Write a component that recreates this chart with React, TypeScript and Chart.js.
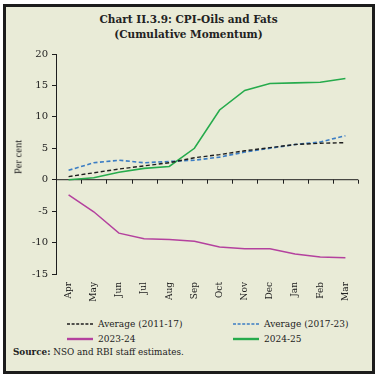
import React, { useEffect, useRef } from "react";
import { Chart, registerables } from "chart.js";

Chart.register(...registerables);

const months = ["Apr", "May", "Jun", "Jul", "Aug", "Sep", "Oct", "Nov", "Dec", "Jan", "Feb", "Mar"];
const avg1117 = [0.5, 1.1, 1.7, 2.2, 2.7, 3.5, 4.0, 4.6, 5.1, 5.6, 5.8, 5.9];
const avg1723 = [1.5, 2.7, 3.1, 2.7, 2.9, 3.1, 3.6, 4.4, 5.0, 5.6, 6.0, 7.0];
const y2324 = [-2.4, -5.1, -8.5, -9.4, -9.5, -9.8, -10.7, -11.0, -11.0, -11.8, -12.3, -12.4];
const y2425 = [0.0, 0.3, 1.2, 1.8, 2.1, 5.0, 11.1, 14.2, 15.3, 15.4, 15.5, 16.1];
const yTicks = [-15, -10, -5, 0, 5, 10, 15, 20];

const BLACK = "#1e1e1e";
const BLUE = "#3b7dc4";
const PURPLE = "#b4419e";
const GREEN = "#26ab4c";
const BG = "#e9ebd7";
const SERIF = "'DejaVu Serif', serif";

const zeroAxis = {
  id: "zeroAxis",
  beforeDatasetsDraw(chart: any) {
    const { ctx, chartArea, scales } = chart;
    const x = scales.x;
    const y = scales.y;
    const y0 = y.getPixelForValue(0);
    const half = (x.getPixelForValue(1) - x.getPixelForValue(0)) / 2;
    ctx.save();
    ctx.strokeStyle = BLACK;
    ctx.lineWidth = 1;
    ctx.beginPath();
    ctx.moveTo(chartArea.left, y0);
    ctx.lineTo(chartArea.right, y0);
    for (let i = 0; i < months.length; i++) {
      const bx = Math.round(x.getPixelForValue(i) + half) + 0.5;
      ctx.moveTo(bx, y0);
      ctx.lineTo(bx, y0 + 4);
    }
    ctx.stroke();
    ctx.restore();
  },
};

function ChartView() {
  const ref = useRef<HTMLCanvasElement | null>(null);
  useEffect(() => {
    if (!ref.current) return;
    const chart = new Chart(ref.current, {
      type: "line",
      data: {
        labels: months,
        datasets: [
          { label: "Average (2011-17)", data: avg1117, borderColor: BLACK, borderWidth: 1.4, borderDash: [4, 2.5], pointRadius: 0, tension: 0 },
          { label: "Average (2017-23)", data: avg1723, borderColor: BLUE, borderWidth: 1.6, borderDash: [4, 2.5], pointRadius: 0, tension: 0 },
          { label: "2023-24", data: y2324, borderColor: PURPLE, borderWidth: 1.5, pointRadius: 0, tension: 0 },
          { label: "2024-25", data: y2425, borderColor: GREEN, borderWidth: 1.6, pointRadius: 0, tension: 0 },
        ],
      },
      options: {
        animation: false,
        responsive: false,
        maintainAspectRatio: false,
        layout: { padding: { top: 10, right: 10, left: 0, bottom: 0 } },
        plugins: { legend: { display: false }, tooltip: { enabled: false }, title: { display: false } },
        scales: {
          x: {
            type: "category",
            offset: true,
            grid: { display: false, drawTicks: false },
            border: { display: false },
            ticks: {
              autoSkip: false,
              minRotation: 90,
              maxRotation: 90,
              padding: 8,
              color: "#222",
              font: { family: SERIF, size: 9 },
            },
            afterFit: (s: any) => { s.height = 42; },
          },
          y: {
            min: -15,
            max: 20,
            afterBuildTicks: (s: any) => { s.ticks = yTicks.map((v) => ({ value: v })); },
            grid: { display: true, drawOnChartArea: false, drawTicks: true, tickLength: 4, color: BLACK },
            border: { display: true, color: BLACK, width: 1 },
            ticks: { padding: 4, color: "#222", font: { family: SERIF, size: 10 } },
            afterFit: (s: any) => { s.width = 48; },
          },
        },
      },
      plugins: [zeroAxis],
    });
    return () => chart.destroy();
  }, []);
  return <canvas ref={ref} width={360} height={272} style={{ position: "absolute", left: 8, top: 44, width: 360, height: 272 }} />;
}

function LegendItem({ left, top, color, dashed, label }: { left: number; top: number; color: string; dashed: boolean; label: string }) {
  return (
    <div style={{ position: "absolute", left, top, height: 14, display: "flex", alignItems: "center", whiteSpace: "nowrap" }}>
      <svg width={26} height={6} style={{ marginRight: 5 }}>
        <line x1={0} y1={3} x2={26} y2={3} stroke={color} strokeWidth={dashed ? 1.3 : 2.4} strokeDasharray={dashed ? "3 1.6" : undefined} />
      </svg>
      <span style={{ fontFamily: SERIF, fontSize: 9, color: "#222" }}>{label}</span>
    </div>
  );
}

export default function App() {
  return (
    <div style={{ position: "fixed", left: 0, top: 0, width: 377, height: 378, background: "#ffffff", overflow: "hidden" }}>
      <div style={{ position: "absolute", left: 3, top: 4, width: 372, height: 370, boxSizing: "border-box", border: "3px solid #1c1c1c", background: BG }} />
      <div style={{ position: "absolute", left: 0, top: 12, width: 377, textAlign: "center", fontFamily: SERIF, fontWeight: "bold", fontSize: 10.5, lineHeight: "15px", color: "#222" }}>
        Chart II.3.9: CPI-Oils and Fats
        <br />
        (Cumulative Momentum)
      </div>
      <ChartView />
      <div style={{ position: "absolute", left: 18, top: 157, width: 0, height: 0 }}>
        <div style={{ position: "absolute", transform: "translate(-50%, -50%) rotate(-90deg)", fontFamily: "'Liberation Serif', serif", fontSize: 10.5, color: "#222", whiteSpace: "nowrap" }}>Per cent</div>
      </div>
      <LegendItem left={67} top={317} color={BLACK} dashed label="Average (2011-17)" />
      <LegendItem left={233} top={317} color={BLUE} dashed label="Average (2017-23)" />
      <LegendItem left={67} top={332} color={PURPLE} dashed={false} label="2023-24" />
      <LegendItem left={233} top={332} color={GREEN} dashed={false} label="2024-25" />
      <div style={{ position: "absolute", left: 13, top: 347, fontFamily: SERIF, fontSize: 8.8, color: "#222", whiteSpace: "nowrap" }}>
        <b>Source:</b> NSO and RBI staff estimates.
      </div>
    </div>
  );
}
